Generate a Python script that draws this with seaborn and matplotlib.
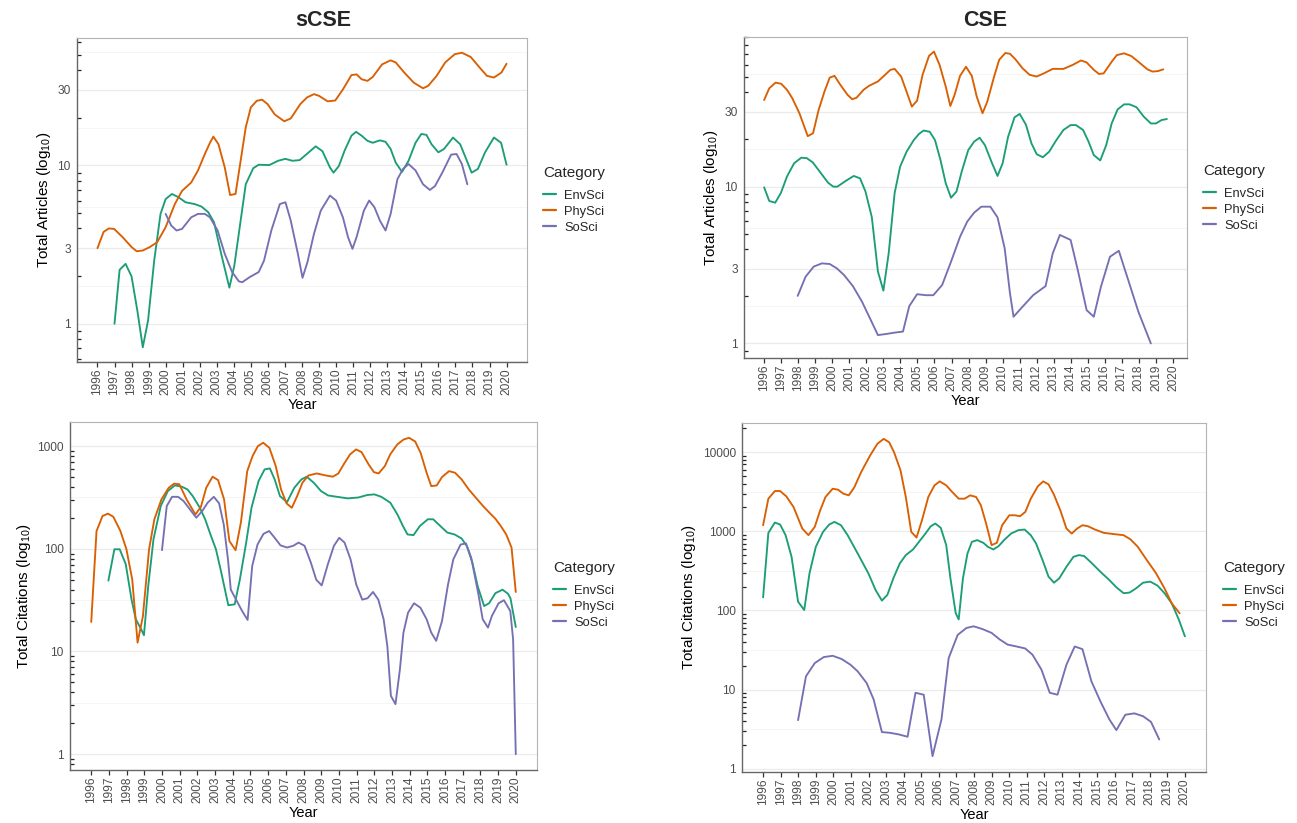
import numpy as np
import pandas as pd
import matplotlib
matplotlib.use("Agg")
import matplotlib.pyplot as plt
from matplotlib.ticker import FixedLocator, FixedFormatter, LogLocator, NullFormatter
import seaborn as sns

# ---------------- data ----------------
categories = ["EnvSci", "PhySci", "SoSci"]
years_axis = list(range(1996, 2021))

# sCSE - total articles
scse_art_env_x = [1997.0, 1997.3, 1997.65, 1998.0, 1998.34, 1998.66, 1998.97, 1999.33, 1999.7, 2000.0, 2000.37, 2000.75, 2001.17, 2001.7, 2002.1, 2002.5, 2002.84, 2003.26, 2003.74, 2004.03, 2004.4, 2004.7, 2005.14, 2005.46, 2006.08, 2006.6, 2007.02, 2007.44, 2007.86, 2008.28, 2008.8, 2009.2, 2009.64, 2009.85, 2010.16, 2010.5, 2010.9, 2011.17, 2011.5, 2011.84, 2012.15, 2012.57, 2012.9, 2013.2, 2013.5, 2013.87, 2014.25, 2014.66, 2015.0, 2015.3, 2015.6, 2016.0, 2016.33, 2016.86, 2017.28, 2017.6, 2017.95, 2018.32, 2018.74, 2019.26, 2019.68, 2020.0]
scse_art_env_y = [1.0, 2.19, 2.39, 1.99, 1.21, 0.71, 1.05, 2.51, 4.94, 6.13, 6.6, 6.3, 5.85, 5.7, 5.5, 5.06, 4.37, 2.76, 1.69, 2.33, 4.48, 7.6, 9.6, 10.1, 10.05, 10.7, 11.0, 10.7, 10.8, 11.8, 13.2, 12.3, 9.7, 9.0, 9.9, 12.4, 15.4, 16.3, 15.4, 14.3, 13.9, 14.4, 14.1, 12.7, 10.4, 9.1, 10.7, 13.9, 15.8, 15.6, 13.6, 12.1, 12.7, 15.0, 13.6, 11.2, 9.0, 9.5, 12.1, 15.0, 13.9, 10.1]
scse_art_phy_x = [1996.0, 1996.36, 1996.67, 1996.98, 1997.5, 1998.0, 1998.3, 1998.66, 1999.07, 1999.5, 2000.0, 2000.54, 2000.96, 2001.5, 2001.9, 2002.3, 2002.6, 2002.8, 2003.1, 2003.47, 2003.78, 2004.1, 2004.4, 2004.7, 2005.0, 2005.35, 2005.66, 2005.98, 2006.4, 2006.96, 2007.34, 2007.9, 2008.3, 2008.7, 2009.0, 2009.5, 2009.95, 2010.4, 2010.9, 2011.2, 2011.5, 2011.84, 2012.15, 2012.7, 2013.2, 2013.5, 2014.0, 2014.56, 2015.1, 2015.4, 2015.9, 2016.4, 2016.96, 2017.38, 2017.9, 2018.43, 2018.85, 2019.26, 2019.7, 2020.0]
scse_art_phy_y = [3.0, 3.8, 4.0, 3.97, 3.5, 3.05, 2.87, 2.9, 3.05, 3.27, 4.07, 5.7, 6.9, 7.8, 9.3, 11.8, 13.9, 15.2, 13.6, 9.7, 6.5, 6.6, 10.7, 17.4, 23.3, 25.6, 26.0, 24.4, 21.0, 19.0, 19.8, 24.4, 26.9, 28.2, 27.5, 25.4, 25.7, 30.2, 37.2, 37.6, 35.0, 34.2, 36.2, 43.5, 46.1, 44.7, 38.6, 33.3, 30.7, 31.8, 36.8, 44.7, 50.4, 51.5, 48.4, 41.4, 36.8, 35.9, 38.6, 43.9]
scse_art_soc_x = [2000.0, 2000.33, 2000.64, 2000.96, 2001.5, 2001.9, 2002.3, 2002.6, 2003.05, 2003.47, 2003.9, 2004.3, 2004.5, 2004.93, 2005.46, 2005.77, 2006.2, 2006.7, 2007.03, 2007.34, 2007.76, 2008.03, 2008.32, 2008.7, 2009.1, 2009.64, 2010.0, 2010.4, 2010.7, 2010.96, 2011.2, 2011.63, 2011.94, 2012.25, 2012.57, 2012.9, 2013.2, 2013.6, 2013.93, 2014.25, 2014.66, 2015.1, 2015.5, 2015.8, 2016.23, 2016.75, 2017.07, 2017.38, 2017.7]
scse_art_soc_y = [4.94, 4.17, 3.88, 3.97, 4.7, 4.94, 4.94, 4.7, 3.88, 2.76, 2.12, 1.85, 1.83, 1.97, 2.12, 2.5, 3.88, 5.7, 5.85, 4.48, 2.76, 1.95, 2.45, 3.69, 5.18, 6.45, 6.0, 4.7, 3.52, 2.97, 3.52, 5.18, 6.0, 5.44, 4.48, 3.88, 4.94, 8.2, 9.5, 10.2, 9.3, 7.6, 7.0, 7.4, 9.0, 11.7, 11.8, 10.2, 7.6]

# CSE - total articles
cse_art_env_x = [1996.0, 1996.3, 1996.65, 1996.98, 1997.34, 1997.76, 1998.18, 1998.5, 1998.85, 1999.33, 1999.75, 2000.06, 2000.3, 2000.8, 2001.26, 2001.63, 2001.95, 2002.32, 2002.68, 2003.0, 2003.31, 2003.66, 2003.98, 2004.36, 2004.78, 2005.09, 2005.36, 2005.72, 2006.03, 2006.35, 2006.66, 2006.97, 2007.29, 2007.6, 2007.98, 2008.33, 2008.65, 2008.96, 2009.38, 2009.7, 2010.0, 2010.32, 2010.7, 2011.0, 2011.37, 2011.69, 2012.0, 2012.36, 2012.73, 2013.15, 2013.57, 2013.99, 2014.3, 2014.72, 2015.04, 2015.35, 2015.73, 2016.08, 2016.4, 2016.75, 2017.13, 2017.45, 2017.86, 2018.28, 2018.7, 2019.0, 2019.33, 2019.64]
cse_art_env_y = [9.9, 8.1, 7.9, 9.1, 11.6, 14.1, 15.3, 15.2, 14.3, 12.2, 10.6, 10.0, 10.0, 10.9, 11.7, 11.3, 9.3, 6.4, 2.87, 2.17, 3.75, 9.1, 13.4, 16.7, 19.8, 21.7, 22.8, 22.4, 19.8, 14.8, 10.5, 8.5, 9.3, 12.5, 17.1, 19.4, 20.5, 18.4, 14.1, 11.7, 14.1, 20.8, 27.7, 29.1, 24.8, 18.9, 16.1, 15.4, 16.7, 19.8, 23.0, 24.7, 24.7, 23.0, 19.4, 15.9, 14.7, 18.4, 25.3, 31.1, 33.5, 33.5, 32.1, 28.0, 25.3, 25.3, 26.6, 27.0]
cse_art_phy_x = [1996.0, 1996.3, 1996.67, 1997.0, 1997.34, 1997.65, 1998.07, 1998.56, 1998.87, 1999.2, 1999.54, 1999.85, 2000.13, 2000.48, 2000.9, 2001.17, 2001.42, 2001.84, 2002.16, 2002.68, 2003.1, 2003.41, 2003.66, 2004.04, 2004.36, 2004.67, 2004.98, 2005.3, 2005.68, 2005.97, 2006.3, 2006.66, 2006.93, 2007.18, 2007.5, 2007.85, 2008.19, 2008.48, 2008.82, 2009.1, 2009.5, 2009.8, 2010.16, 2010.43, 2010.74, 2011.16, 2011.58, 2012.0, 2012.42, 2012.94, 2013.57, 2014.1, 2014.6, 2014.93, 2015.35, 2015.66, 2015.93, 2016.4, 2016.7, 2017.13, 2017.55, 2017.97, 2018.5, 2018.8, 2019.12, 2019.43]
cse_art_phy_y = [35.7, 42.4, 46.1, 45.3, 41.5, 36.7, 29.4, 21.0, 21.9, 30.9, 40.4, 49.6, 50.9, 44.5, 38.5, 36.1, 36.9, 41.5, 44.0, 46.9, 51.7, 55.6, 56.4, 50.4, 40.4, 32.4, 35.4, 51.7, 68.3, 72.7, 59.7, 43.5, 32.7, 38.5, 50.9, 58.2, 50.9, 37.5, 29.4, 34.9, 50.4, 64.5, 71.2, 70.4, 65.1, 57.0, 51.7, 50.4, 52.8, 56.4, 56.4, 59.7, 63.8, 62.0, 55.6, 52.3, 52.8, 62.6, 69.0, 70.9, 68.1, 62.6, 56.0, 54.2, 54.6, 56.0]
cse_art_soc_x = [1997.97, 1998.43, 1998.91, 1999.39, 1999.85, 2000.27, 2000.69, 2001.21, 2001.74, 2002.26, 2002.68, 2003.2, 2003.62, 2004.15, 2004.52, 2004.98, 2005.5, 2005.93, 2006.45, 2006.97, 2007.5, 2007.92, 2008.33, 2008.75, 2009.28, 2009.7, 2010.12, 2010.43, 2010.64, 2011.16, 2011.79, 2012.52, 2012.94, 2013.36, 2013.99, 2014.41, 2014.93, 2015.35, 2015.77, 2016.3, 2016.82, 2017.34, 2017.97, 2018.7]
cse_art_soc_y = [2.01, 2.66, 3.09, 3.24, 3.21, 3.01, 2.73, 2.32, 1.85, 1.41, 1.13, 1.15, 1.17, 1.19, 1.73, 2.06, 2.03, 2.03, 2.36, 3.32, 4.79, 5.98, 6.83, 7.45, 7.45, 6.37, 4.04, 2.09, 1.48, 1.71, 2.03, 2.32, 3.75, 4.92, 4.57, 2.94, 1.63, 1.48, 2.30, 3.57, 3.90, 2.60, 1.59, 1.0]

# sCSE - total citations
scse_cit_env_x = [1996.97, 1997.31, 1997.61, 1997.95, 1998.28, 1998.52, 1998.82, 1998.98, 1999.22, 1999.52, 1999.93, 2000.33, 2000.73, 2001.13, 2001.44, 2001.74, 2002.14, 2002.44, 2002.74, 2003.05, 2003.35, 2003.75, 2004.11, 2004.4, 2004.76, 2005.06, 2005.46, 2005.8, 2006.1, 2006.37, 2006.67, 2007.07, 2007.48, 2007.88, 2008.18, 2008.58, 2008.99, 2009.39, 2009.89, 2010.5, 2011.1, 2011.6, 2012.0, 2012.4, 2012.91, 2013.31, 2013.62, 2013.88, 2014.22, 2014.58, 2015.03, 2015.33, 2015.73, 2016.13, 2016.54, 2016.94, 2017.24, 2017.55, 2017.85, 2018.21, 2018.49, 2018.85, 2019.25, 2019.56, 2019.7, 2020.0]
scse_cit_env_y = [49, 99, 99, 71, 32, 20.6, 16.5, 14.4, 43, 124, 261, 365, 415, 402, 379, 326, 251, 194, 138, 99, 59, 28.2, 28.8, 50, 115, 251, 457, 593, 607, 474, 326, 285, 393, 474, 504, 440, 365, 331, 321, 310, 316, 334, 339, 321, 281, 216, 167, 138, 136, 167, 194, 194, 167, 144, 138, 126, 106, 73, 43, 27.7, 29.5, 37, 40, 36.5, 33, 17.3]
scse_cit_phy_x = [1996.0, 1996.3, 1996.64, 1996.95, 1997.25, 1997.65, 1997.99, 1998.32, 1998.62, 1998.92, 1999.27, 1999.57, 1999.97, 2000.38, 2000.68, 2000.98, 2001.39, 2001.89, 2002.2, 2002.5, 2002.86, 2003.17, 2003.51, 2003.81, 2004.16, 2004.46, 2004.82, 2005.12, 2005.42, 2005.72, 2006.07, 2006.43, 2006.73, 2007.04, 2007.34, 2007.64, 2007.94, 2008.28, 2008.75, 2009.26, 2009.66, 2009.97, 2010.27, 2010.63, 2010.97, 2011.28, 2011.68, 2011.98, 2012.25, 2012.6, 2012.9, 2013.3, 2013.66, 2013.97, 2014.31, 2014.62, 2014.96, 2015.22, 2015.53, 2015.83, 2016.23, 2016.57, 2016.94, 2017.34, 2017.74, 2018.15, 2018.55, 2018.85, 2019.15, 2019.46, 2019.76, 2020.0]
scse_cit_phy_y = [19.4, 149, 209, 220, 205, 149, 99, 50, 12.2, 22, 99, 194, 303, 393, 431, 425, 303, 216, 256, 393, 504, 467, 303, 119, 97, 180, 571, 800, 1000, 1079, 964, 640, 379, 277, 251, 326, 440, 518, 542, 518, 504, 542, 664, 830, 929, 876, 664, 558, 542, 640, 830, 1038, 1161, 1205, 1111, 861, 550, 408, 414, 500, 571, 550, 474, 379, 315, 261, 221, 196, 167, 138, 103, 38]
scse_cit_soc_x = [2000.0, 2000.27, 2000.57, 2000.91, 2001.22, 2001.58, 2001.94, 2002.28, 2002.58, 2002.93, 2003.23, 2003.49, 2003.73, 2003.89, 2004.23, 2004.53, 2004.84, 2005.1, 2005.4, 2005.74, 2006.06, 2006.37, 2006.7, 2007.07, 2007.42, 2007.72, 2008.06, 2008.42, 2008.72, 2009.03, 2009.38, 2009.72, 2010.02, 2010.32, 2010.66, 2010.98, 2011.32, 2011.62, 2011.93, 2012.23, 2012.53, 2012.74, 2012.94, 2013.2, 2013.45, 2013.65, 2013.91, 2014.25, 2014.61, 2014.96, 2015.22, 2015.5, 2015.83, 2016.17, 2016.47, 2016.88, 2017.18, 2017.48, 2017.89, 2018.13, 2018.43, 2018.65, 2019.03, 2019.33, 2019.69, 2019.85, 2020.0]
scse_cit_soc_y = [97, 261, 321, 321, 292, 242, 201, 234, 281, 321, 277, 173, 79, 40, 31, 24.8, 20.3, 68, 110, 140, 149, 128, 108, 103, 107, 115, 107, 73, 50, 44, 71, 107, 128, 115, 79, 45, 32, 33, 38, 32, 20.6, 11.3, 3.7, 3.07, 6.7, 15.3, 23.9, 29.5, 26.7, 20.6, 15.3, 12.7, 19.8, 45, 79, 110, 113, 82, 36, 20.6, 17.1, 22.2, 29.5, 31.6, 24.8, 13.1, 1.0]

# CSE - total citations
cse_cit_env_x = [1996.0, 1996.3, 1996.67, 1996.97, 1997.28, 1997.62, 1997.99, 1998.34, 1998.64, 1999.0, 1999.41, 1999.76, 2000.06, 2000.43, 2000.81, 2001.38, 2001.99, 2002.4, 2002.76, 2003.07, 2003.41, 2003.78, 2004.12, 2004.53, 2004.87, 2005.24, 2005.54, 2005.8, 2006.11, 2006.42, 2006.66, 2006.96, 2007.13, 2007.37, 2007.63, 2007.88, 2008.18, 2008.53, 2008.79, 2009.1, 2009.4, 2009.71, 2010.11, 2010.52, 2010.88, 2011.23, 2011.53, 2011.9, 2012.24, 2012.55, 2012.85, 2013.26, 2013.66, 2013.97, 2014.27, 2014.68, 2015.19, 2015.7, 2016.1, 2016.51, 2016.85, 2017.22, 2017.62, 2018.03, 2018.44, 2018.84, 2019.25, 2019.66, 2020.0]
cse_cit_env_y = [146, 955, 1289, 1216, 893, 476, 129, 101, 294, 636, 983, 1216, 1315, 1193, 893, 525, 294, 181, 133, 157, 254, 393, 500, 589, 736, 937, 1158, 1253, 1104, 668, 254, 92, 77, 254, 525, 736, 773, 715, 636, 589, 649, 773, 937, 1032, 1052, 893, 701, 433, 267, 224, 254, 356, 476, 500, 486, 400, 308, 242, 196, 165, 168, 190, 224, 231, 206, 165, 123, 76, 47]
cse_cit_phy_x = [1996.0, 1996.3, 1996.67, 1996.97, 1997.32, 1997.73, 1998.23, 1998.58, 1998.94, 1999.25, 1999.55, 1999.96, 2000.26, 2000.57, 2000.87, 2001.18, 2001.58, 2002.09, 2002.5, 2002.86, 2003.17, 2003.45, 2003.82, 2004.12, 2004.43, 2004.73, 2005.04, 2005.4, 2005.75, 2006.05, 2006.42, 2006.76, 2007.13, 2007.47, 2007.78, 2008.12, 2008.39, 2008.69, 2009.0, 2009.3, 2009.6, 2010.01, 2010.31, 2010.62, 2010.92, 2011.23, 2011.63, 2011.94, 2012.24, 2012.55, 2012.91, 2013.26, 2013.56, 2013.87, 2014.17, 2014.48, 2014.88, 2015.39, 2016.0, 2016.51, 2016.91, 2017.32, 2017.83, 2018.34, 2018.84, 2019.25, 2019.7]
cse_cit_phy_y = [1193, 2582, 3226, 3226, 2765, 2030, 1083, 893, 1137, 1845, 2713, 3451, 3357, 2987, 2846, 3555, 5602, 9082, 12730, 14720, 13370, 10000, 5875, 2713, 983, 834, 1379, 2713, 3804, 4274, 3804, 3135, 2582, 2582, 2846, 2713, 2131, 1253, 668, 715, 1193, 1594, 1594, 1551, 1757, 2582, 3700, 4274, 3917, 2902, 1845, 1083, 937, 1083, 1193, 1159, 1052, 955, 919, 893, 788, 636, 433, 299, 190, 123, 92]
cse_cit_soc_x = [1997.99, 1998.44, 1998.94, 1999.45, 1999.96, 2000.47, 2000.97, 2001.38, 2001.89, 2002.29, 2002.76, 2003.21, 2003.72, 2004.22, 2004.67, 2005.14, 2005.64, 2006.15, 2006.56, 2007.07, 2007.57, 2007.98, 2008.49, 2009.0, 2009.46, 2009.91, 2010.42, 2010.92, 2011.33, 2011.84, 2012.31, 2012.75, 2013.26, 2013.73, 2014.17, 2014.68, 2015.19, 2015.7, 2016.1, 2016.61, 2017.12, 2017.62, 2018.07, 2018.54]
cse_cit_soc_y = [4.1, 14.7, 21.6, 25.7, 26.7, 24.3, 20.6, 17.0, 12.1, 7.5, 2.9, 2.84, 2.71, 2.53, 9.1, 8.6, 1.44, 4.2, 25, 49, 60, 63, 58, 52, 43, 37, 35, 33, 27.5, 17.8, 9.1, 8.6, 20.6, 35, 32.4, 12.7, 7.1, 4.2, 3.07, 4.8, 5.0, 4.6, 3.9, 2.34]

article_ticks = [1, 3, 10, 30]
citation_ticks = [1, 10, 100, 1000, 10000]

# ---------------- style ----------------
sns.set_theme(style="white")
plt.rcParams["font.family"] = ["Liberation Sans", "DejaVu Sans"]
plt.rcParams["mathtext.fontset"] = "custom"
plt.rcParams["mathtext.rm"] = "Liberation Sans"
plt.rcParams["mathtext.it"] = "Liberation Sans:italic"
plt.rcParams["mathtext.bf"] = "Liberation Sans:bold"

palette = {"EnvSci": "#1B9E77", "PhySci": "#D95F02", "SoSci": "#7570B3"}
W, H = 1297, 823
fig = plt.figure(figsize=(W / 100, H / 100), dpi=100)
fig.patch.set_facecolor("white")


def add_axes_px(left, top, right, bottom):
    return fig.add_axes([left / W, 1 - bottom / H, (right - left) / W, (bottom - top) / H])


def draw_panel(ax, series, yticks, ylabel, legend_xy):
    frames = []
    for cat, (xs, ys) in series.items():
        assert len(xs) == len(ys), cat
        frames.append(pd.DataFrame({"Year": xs, "Value": ys, "Category": cat}))
    df = pd.concat(frames, ignore_index=True)

    ax.set_yscale("log")
    sns.lineplot(data=df, x="Year", y="Value", hue="Category", hue_order=categories,
                 palette=palette, estimator=None, linewidth=1.35, ax=ax)
    ax.margins(x=0.05, y=0.05)
    ax.autoscale_view()
    lo, hi = ax.get_ylim()

    # grid: major at labelled breaks, minor halfway (in log space) between them
    ax.set_axisbelow(True)
    for v in yticks:
        ax.axhline(v, color="#EBEBEB", lw=0.9, zorder=0)
    steps = [yticks[0] / (yticks[1] / yticks[0])] + yticks + [yticks[-1] * (yticks[-1] / yticks[-2])]
    for a, b in zip(steps[:-1], steps[1:]):
        m = np.sqrt(a * b)
        if lo < m < hi:
            ax.axhline(m, color="#F4F4F4", lw=0.6, zorder=0)

    # y axis: labelled breaks + log tick marks
    ax.yaxis.set_major_locator(FixedLocator(yticks))
    ax.yaxis.set_major_formatter(FixedFormatter([str(v) for v in yticks]))
    ax.yaxis.set_minor_locator(LogLocator(base=10, subs=np.arange(2, 10)))
    ax.yaxis.set_minor_formatter(NullFormatter())
    ax.tick_params(axis="y", which="major", direction="inout", length=6, width=0.9,
                   color="#333333", labelsize=8.6, labelcolor="#4D4D4D", pad=1.5)
    ax.tick_params(axis="y", which="minor", direction="in", length=2.6, width=0.9,
                   color="#222222", left=True)
    ax.set_ylim(lo, hi)
    for t, v in zip(ax.yaxis.get_major_ticks(), yticks):
        if abs(np.log10(v) - round(np.log10(v))) < 1e-9:
            t.tick1line.set_markersize(11)

    # x axis: one break per year
    ax.set_xticks(years_axis)
    ax.set_xticklabels([str(y) for y in years_axis], rotation=90)
    ax.tick_params(axis="x", which="major", direction="out", length=3.5, width=0.9,
                   color="#333333", labelsize=8.6, labelcolor="#4D4D4D", pad=1.5, bottom=True)
    ax.tick_params(axis="x", which="minor", bottom=False)

    ax.set_xlabel("Year", fontsize=10.5, color="black", labelpad=1.5)
    ax.set_ylabel(ylabel, fontsize=11, color="black", labelpad=3)

    for side in ["top", "right"]:
        ax.spines[side].set_color("#B3B3B3")
        ax.spines[side].set_linewidth(0.8)
    for side in ["left", "bottom"]:
        ax.spines[side].set_color("#666666")
        ax.spines[side].set_linewidth(1.0)

    sns.move_legend(ax, "upper left", bbox_to_anchor=(legend_xy[0] / W, 1 - legend_xy[1] / H),
                    bbox_transform=fig.transFigure, frameon=False, title="Category",
                    fontsize=9.3, title_fontsize=11, handlelength=1.0, handletextpad=0.62,
                    labelspacing=0.3, borderpad=0, borderaxespad=0, alignment="left")
    leg = ax.get_legend()
    leg._legend_box.sep = 7
    for line in leg.get_lines():
        line.set_linewidth(1.6)


ylab_art = "Total Articles (log$_{10}$)"
ylab_cit = "Total Citations (log$_{10}$)"

ax1 = add_axes_px(77, 38, 527, 362)
draw_panel(ax1, {"EnvSci": (scse_art_env_x, scse_art_env_y),
                 "PhySci": (scse_art_phy_x, scse_art_phy_y),
                 "SoSci": (scse_art_soc_x, scse_art_soc_y)},
           article_ticks, ylab_art, (543, 166))

ax2 = add_axes_px(744, 37, 1187, 358)
draw_panel(ax2, {"EnvSci": (cse_art_env_x, cse_art_env_y),
                 "PhySci": (cse_art_phy_x, cse_art_phy_y),
                 "SoSci": (cse_art_soc_x, cse_art_soc_y)},
           article_ticks, ylab_art, (1203, 164))

ax3 = add_axes_px(70, 422, 537, 770)
draw_panel(ax3, {"EnvSci": (scse_cit_env_x, scse_cit_env_y),
                 "PhySci": (scse_cit_phy_x, scse_cit_phy_y),
                 "SoSci": (scse_cit_soc_x, scse_cit_soc_y)},
           citation_ticks[:4], ylab_cit, (553, 561))

ax4 = add_axes_px(742, 423, 1206, 772)
draw_panel(ax4, {"EnvSci": (cse_cit_env_x, cse_cit_env_y),
                 "PhySci": (cse_cit_phy_x, cse_cit_phy_y),
                 "SoSci": (cse_cit_soc_x, cse_cit_soc_y)},
           citation_ticks, ylab_cit, (1223, 561))

fig.text(323 / W, 1 - 21 / H, "sCSE", ha="center", va="center", fontsize=15.5, fontweight="bold")
fig.text(985 / W, 1 - 21 / H, "CSE", ha="center", va="center", fontsize=15.5, fontweight="bold")

fig.savefig("out.png", dpi=100, facecolor="white")
